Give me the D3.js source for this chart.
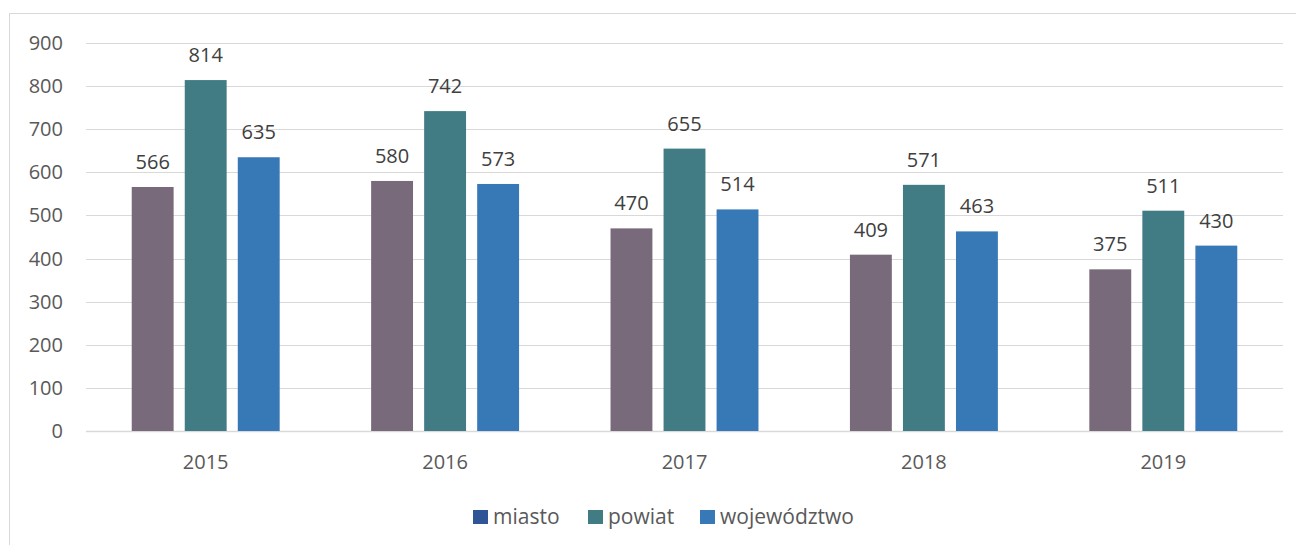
<!DOCTYPE html>
<html>
<head>
<meta charset="utf-8">
<script src="https://cdn.jsdelivr.net/npm/d3@7"></script>
<style>
  body { margin: 0; background: #fff; }
  text { font-family: "Open Sans", "Noto Sans", sans-serif; }
</style>
</head>
<body>
<svg id="chart" width="1296" height="545"></svg>
<script>
// data
let years = ["2015", "2016", "2017", "2018", "2019"];
let seriesNames = ["miasto", "powiat", "województwo"];
let miasto = [566, 580, 470, 409, 375];
let powiat = [814, 742, 655, 571, 511];
let wojewodztwo = [635, 573, 514, 463, 430];
let yTicks = [0, 100, 200, 300, 400, 500, 600, 700, 800, 900];

let barColors = ["#786A7A", "#417B84", "#3778B6"];
let legendColors = ["#2F5597", "#417B84", "#3778B6"];

let svg = d3.select("#chart");
let values = [miasto, powiat, wojewodztwo];

// chart frame
svg.append("rect")
    .attr("x", 9.5).attr("y", 13.5)
    .attr("width", 1300).attr("height", 560)
    .style("fill", "none")
    .style("stroke", "#d9d9d9")
    .style("stroke-width", 1);

let plot = {left: 86, right: 1283, top: 43, bottom: 431};

let y = d3.scaleLinear().domain([0, 900]).range([plot.bottom, plot.top]);
let x0 = d3.scaleBand().domain(years).range([plot.left, plot.right])
    .paddingInner(0.382).paddingOuter(0.191);
let x1 = d3.scaleBand().domain(d3.range(3)).range([0, x0.bandwidth()])
    .paddingInner(0.21);

// gridlines
svg.append("g")
    .selectAll("line")
    .data(yTicks)
    .enter().append("line")
    .attr("x1", plot.left).attr("x2", plot.right)
    .attr("y1", d => Math.round(y(d)) + 0.5)
    .attr("y2", d => Math.round(y(d)) + 0.5)
    .style("stroke", "#d9d9d9")
    .style("stroke-width", d => d === 0 ? 1.5 : 1);

// y labels
svg.append("g")
    .selectAll("text")
    .data(yTicks)
    .enter().append("text")
    .attr("x", 63)
    .attr("y", d => y(d) + 7)
    .style("text-anchor", "end")
    .style("font-size", "20px")
    .style("fill", "#595959")
    .text(d => d);

// bars and value labels
let groups = svg.append("g")
    .selectAll("g")
    .data(years)
    .enter().append("g")
    .attr("transform", d => "translate(" + x0(d) + ",0)");

groups.each(function (yr, i) {
    let g = d3.select(this);
    values.forEach((arr, s) => {
        g.append("rect")
            .attr("x", x1(s))
            .attr("y", y(arr[i]))
            .attr("width", x1.bandwidth())
            .attr("height", y(0) - y(arr[i]))
            .style("fill", barColors[s]);
        g.append("text")
            .attr("x", x1(s) + x1.bandwidth() / 2)
            .attr("y", y(arr[i]) - 18)
            .style("text-anchor", "middle")
            .style("font-size", "20px")
            .style("fill", "#404040")
            .text(arr[i]);
    });
});

// x labels
svg.append("g")
    .selectAll("text")
    .data(years)
    .enter().append("text")
    .attr("x", d => x0(d) + x0.bandwidth() / 2)
    .attr("y", 469)
    .style("text-anchor", "middle")
    .style("font-size", "20px")
    .style("fill", "#595959")
    .text(d => d);

// legend
let legendX = [473, 588, 700];
let legend = svg.append("g");
seriesNames.forEach((name, s) => {
    legend.append("rect")
        .attr("x", legendX[s]).attr("y", 510)
        .attr("width", 15).attr("height", 14)
        .style("fill", legendColors[s]);
    legend.append("text")
        .attr("x", legendX[s] + 20).attr("y", 524)
        .style("font-size", "21px")
        .style("fill", "#595959")
        .text(name);
});
</script>
</body>
</html>
